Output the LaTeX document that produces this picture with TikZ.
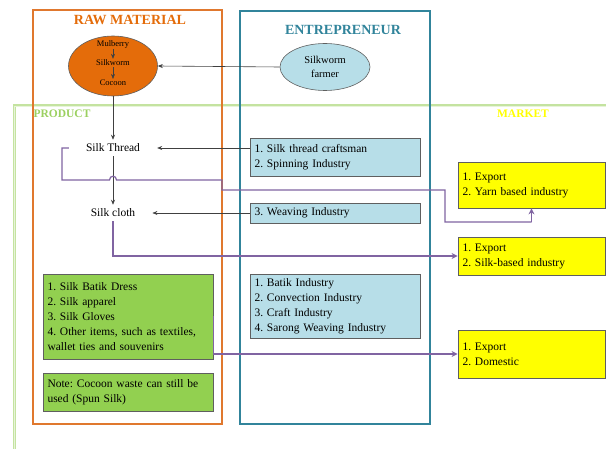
\documentclass[tikz,border=0pt]{standalone}
\usepackage{fontspec}
\setmainfont{Liberation Serif}
\frenchspacing
\usetikzlibrary{shapes.geometric,arrows.meta}
\definecolor{orfr}{HTML}{E0782E}
\definecolor{orfill}{HTML}{E46C0A}
\definecolor{tealfr}{HTML}{31849B}
\definecolor{lblue}{HTML}{B7DEE8}
\definecolor{lgreen}{HTML}{92D050}
\definecolor{gframe}{HTML}{C4E3A0}
\definecolor{ptitle}{HTML}{9BD060}
\definecolor{yel}{HTML}{FFFF00}
\definecolor{purp}{HTML}{8064A2}
\definecolor{bord}{HTML}{5F5F5F}
\tikzset{
  frame/.style={line width=2pt},
  infobox/.style={draw=bord, line width=0.8pt, rectangle, minimum width=170pt, inner xsep=4pt, inner ysep=2pt, text width=161pt, align=left, font=\fontsize{11.5}{15}\selectfont},
  yelbox/.style={draw=bord, line width=0.8pt, fill=yel, rectangle, minimum width=147pt, inner xsep=4pt, text width=138pt, align=left, font=\fontsize{11.5}{15}\selectfont},
  plain/.style={inner xsep=17pt, inner ysep=4pt, font=\fontsize{11.5}{13}\selectfont},
  conn/.style={draw=black!75, line width=0.6pt, -{Stealth[length=5pt,width=4pt]}},
  pconn/.style={draw=purp, line width=1.2pt},
  parr/.style={draw=purp, line width=1.2pt, -{Stealth[length=6pt,width=6pt]}},
  ttl/.style={font=\fontsize{14}{16}\selectfont\bfseries},
}
\begin{document}
\begin{tikzpicture}[x=1pt,y=-1pt]
\useasboundingbox (0,0) rectangle (606,449);
% big green frame
\draw[gframe, line width=3pt] (14,452) -- (14,106) -- (609,106);
\draw[white!60!gframe, line width=0.8pt] (14,452) -- (14,106) -- (609,106);
% orange and teal frames
\draw[frame, orfr] (33,10) rectangle (222,424);
\draw[frame, tealfr] (240,11) rectangle (430,424);
% titles
\node[ttl, text=orfill] (traw) at (130,20) {RAW MATERIAL};
\node[ttl, text=tealfr] (tent) at (343,30) {ENTREPRENEUR};
\node[text=ptitle, font=\fontsize{11.5}{13}\selectfont\bfseries] (tprod) at (62,114) {PRODUCT};
\node[text=yel, font=\fontsize{11.5}{13}\selectfont\bfseries] (tmark) at (523,114) {MARKET};
% raw material ellipse
\node[ellipse, draw=bord, line width=0.6pt, fill=orfill, minimum width=89pt, minimum height=60pt] (raw) at (113,66) {};
\node[font=\fontsize{8.5}{9}\selectfont, inner sep=1pt] (mulb) at (113,44) {Mulberry};
\node[font=\fontsize{8.5}{9}\selectfont, inner sep=1pt] (silkw) at (113,63) {Silkworm};
\node[font=\fontsize{8.5}{9}\selectfont, inner sep=1pt] (coco) at (113,83) {Cocoon};
\draw[conn, line width=0.5pt] (mulb) -- (silkw);
\draw[conn, line width=0.5pt] (silkw) -- (coco);
% farmer
\node[ellipse, draw=bord, line width=0.6pt, fill=lblue, minimum width=90pt, minimum height=47pt, align=center, font=\fontsize{10.5}{14}\selectfont] (farm) at (325,67) {Silkworm\\farmer};
\draw[conn] (farm.west) -- (raw.east);
% product chain
\node[plain] (thread) at (113,148) {Silk Thread};
\node[plain] (cloth) at (113,213) {Silk cloth};
\draw[conn] (raw.south) -- (thread.north);
\draw[conn] (thread.south) -- (cloth.north);
% entrepreneur boxes
\node[infobox, fill=lblue, minimum height=38pt] (b1) at (335,157) {1. Silk thread craftsman\\2. Spinning Industry};
\node[infobox, fill=lblue, minimum height=20pt] (b2) at (335,213) {3. Weaving Industry};
\node[infobox, fill=lblue, minimum height=64pt] (b3) at (335,306) {1. Batik Industry\\2. Convection Industry\\3. Craft Industry\\4. Sarong Weaving Industry};
\draw[conn] (b1.west |- thread) -- (thread.east);
\draw[conn] (b2.west) -- (cloth.east);
% green boxes
\node[infobox, fill=lgreen, minimum height=85pt] (g1) at (128,316.5) {1. Silk Batik Dress\\2. Silk apparel\\3. Silk Gloves\\4. Other items, such as textiles, wallet ties and souvenirs};
\node[infobox, fill=lgreen, minimum height=38pt] (g2) at (128,392) {Note: Cocoon waste can still be used (Spun Silk)};
% market boxes
\node[yelbox, minimum height=46pt] (y1) at (531.5,185) {1. Export\\2. Yarn based industry};
\node[yelbox, minimum height=38pt] (y2) at (531.5,256) {1. Export\\2. Silk-based industry};
\node[yelbox, minimum height=48pt] (y3) at (531.5,354) {1. Export\\2. Domestic};
% purple connectors
\coordinate (hopL) at (109.5,180);
\coordinate (hopR) at (116.5,180);
\draw[pconn] (thread.west) -- (62,148) -- (62,180) -- (hopL) .. controls (109.5,175) and (116.5,175) .. (hopR) -- (222,180) -- (222,190) -- (445,190) -- (445,222) -- (531.5,222);
\draw[parr] (531.5,222) -- (y1.south);
\draw[parr] (cloth.south) |- (y2.west);
\draw[parr] (g1.east) |- (y3.west);
\end{tikzpicture}
\end{document}
